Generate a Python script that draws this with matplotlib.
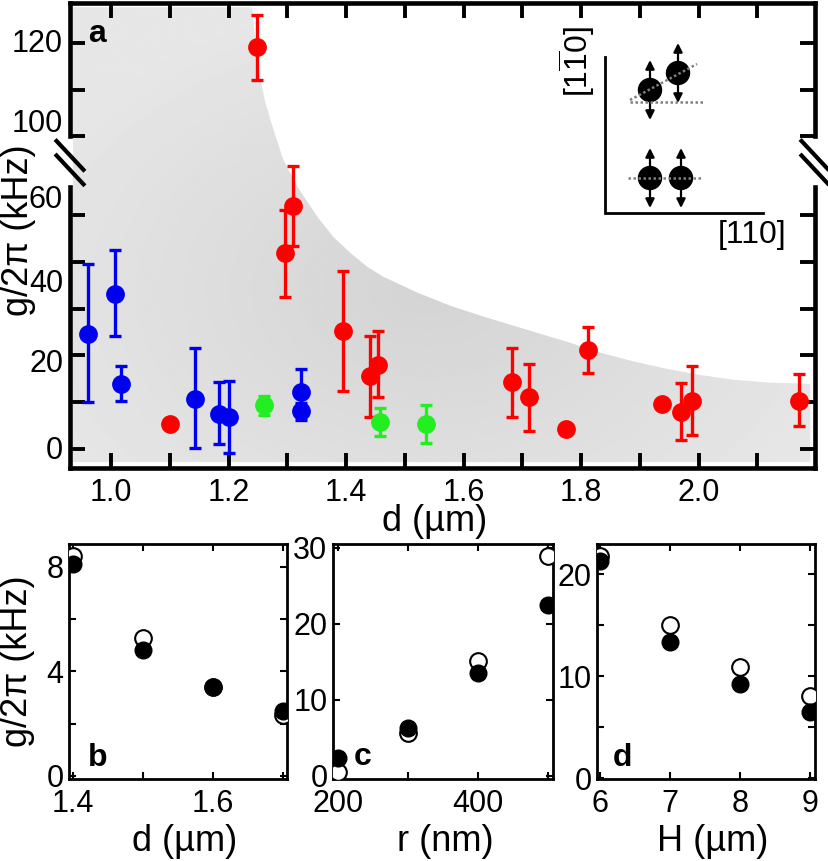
import numpy as np
import matplotlib
matplotlib.use("Agg")
import matplotlib.pyplot as plt
from matplotlib.patches import Polygon, Circle

plt.rcParams['font.family'] = ['Liberation Sans', 'DejaVu Sans']
plt.rcParams['mathtext.fontset'] = 'custom'
plt.rcParams['mathtext.rm'] = 'Liberation Sans'
plt.rcParams['mathtext.it'] = 'Liberation Sans:italic'
plt.rcParams['mathtext.bf'] = 'Liberation Sans:bold'

nan = np.nan

# ---- panel a data: coupling g/2pi (kHz) vs spacing d (um) ----
blue_d = [0.960, 1.007, 1.016, 1.142, 1.184, 1.200, 1.324, 1.323]
blue_g = [24.6, 33.2, 13.9, 10.7, 7.4, 6.8, 12.1, 8.2]
blue_lo = [10.0, 24.2, 10.3, 0.15, 1.1, -0.8, 7.0, 6.2]
blue_hi = [39.5, 42.4, 17.8, 21.5, 14.4, 14.5, 17.1, 9.8]

green_d = [1.261, 1.458, 1.536]
green_g = [9.3, 5.7, 5.3]
green_lo = [7.3, 2.8, 1.2]
green_hi = [11.3, 8.7, 9.4]

red_d = [1.100, 1.248, 1.296, 1.310, 1.394, 1.441, 1.454, 1.682, 1.711,
         1.774, 1.812, 1.938, 1.970, 1.989, 2.171]
red_g = [5.4, 119.0, 41.9, 51.8, 25.1, 15.5, 18.0, 14.2, 11.1,
         4.2, 21.2, 9.6, 8.0, 10.3, 10.3]
red_lo = [nan, 112.0, 32.4, 43.3, 12.4, 6.8, 11.1, 6.9, 3.9,
          nan, 16.2, nan, 1.9, 3.0, 4.9]
red_hi = [nan, 126.0, 51.1, 60.4, 38.1, 24.2, 25.2, 21.5, 18.2,
          nan, 26.0, nan, 14.1, 17.8, 16.0]

# upper bound of the shaded region
shade_d = [1.240, 1.246, 1.254, 1.262, 1.271, 1.280, 1.293, 1.317, 1.351,
           1.378, 1.407, 1.436, 1.463, 1.521, 1.577, 1.633, 1.696, 1.776,
           1.832, 1.889, 1.946, 2.003, 2.059, 2.117, 2.190]
shade_g = [127.6, 120.0, 112.2, 107.5, 103.6, 100.0, 61.8, 56.0, 49.6,
           45.3, 41.9, 38.9, 36.8, 33.4, 30.6, 28.3, 25.9, 22.9,
           20.6, 18.7, 17.1, 15.8, 14.8, 14.2, 13.9]

# ---- panels b-d: open = one model, filled = other ----
b_d = [1.4, 1.5, 1.6, 1.7]
b_open = [8.41, 5.25, 3.40, 2.31]
b_fill = [8.09, 4.82, 3.39, 2.48]

c_r = [200, 300, 400, 500]
c_open = [0.5, 5.7, 15.1, 28.9]
c_fill = [2.3, 6.3, 13.5, 22.5]

d_H = [6, 7, 8, 9]
d_open = [21.8, 15.0, 10.9, 8.1]
d_fill = [21.3, 13.4, 9.2, 6.5]

W, H = 829, 861
fig = plt.figure(figsize=(W / 100, H / 100), dpi=100)


def px_axes(l, t, r, b):
    return fig.add_axes([l / W, 1 - b / H, (r - l) / W, (b - t) / H])


# ================= panel a (broken y axis) =================
ax = px_axes(70, 3, 815, 468)
GAP_TOP = 66.74  # lower scale runs up to here, then the upper part starts at 100


def fwd(v):
    v = np.asarray(v, float)
    return np.where(v >= 100, v - 100 + GAP_TOP, np.minimum(v, GAP_TOP))


def inv(u):
    u = np.asarray(u, float)
    return np.where(u > GAP_TOP, u - GAP_TOP + 100, u)


ax.set_yscale('function', functions=(fwd, inv))

verts = [(0.935, -2.8), (0.935, 127.6)] + list(zip(shade_d, shade_g)) + [(2.190, -2.8)]
poly = Polygon(verts, closed=True, facecolor='none', edgecolor='none')
ax.add_patch(poly)
yy, xx = np.mgrid[0:1:300j, 0:1:400j]
rr = np.hypot((xx - 0.48) / 0.6, (yy - 0.38) / 0.65)
shade = 0.83 + 0.075 * np.clip(rr, 0, 1)
im = ax.imshow(shade, extent=(0, 1, 0, 1), transform=ax.transAxes, cmap='gray',
               vmin=0, vmax=1, aspect='auto', origin='lower', zorder=0,
               interpolation='bilinear')
im.set_clip_path(poly)


def draw_err(d, g, lo, hi, color):
    d, g, lo, hi = (np.asarray(a, float) for a in (d, g, lo, hi))
    ax.errorbar(d, g, yerr=[g - lo, hi - g], fmt='o', color=color, ms=12.5,
                elinewidth=2.4, capsize=4.5, capthick=2.4, zorder=3)


draw_err(blue_d, blue_g, blue_lo, blue_hi, '#0000f0')
draw_err(green_d, green_g, green_lo, green_hi, '#22ee22')
draw_err(red_d, red_g, red_lo, red_hi, '#ff0000')

ax.set_xlim(0.930, 2.198)
ax.set_ylim(-4.06, 128.5)
ax.set_xticks([1.0, 1.2, 1.4, 1.6, 1.8, 2.0], ['1.0', '1.2', '1.4', '1.6', '1.8', '2.0'])
ax.set_xticks([1.1, 1.3, 1.5, 1.7, 1.9, 2.1], minor=True)
ax.yaxis.remove_overlapping_locs = False
tick_marks = [0, 10, 20, 30, 40, 50, 100, 110, 120]
ax.set_yticks(tick_marks, [''] * len(tick_marks))
ax.set_yticks([0.4, 19, 36, 54, 103.5, 120.5], ['0', '20', '40', '60', '100', '120'], minor=True)
ax.tick_params(which='both', direction='in', top=True, right=True, width=2.8,
               length=11, labelsize=22)
ax.tick_params(axis='x', which='both', pad=7)
ax.tick_params(axis='y', which='minor', length=0, pad=5)

for s in ('top', 'bottom'):
    ax.spines[s].set_linewidth(3.3)
for s in ('left', 'right'):
    ax.spines[s].set_visible(False)
yt = ax.get_yaxis_transform()
for side in (0, 1):
    ax.plot([side, side], [-4.06, 56.0], transform=yt, color='k', lw=3.3,
            clip_on=False, solid_capstyle='projecting', zorder=5)
    ax.plot([side, side], [100, 128.5], transform=yt, color='k', lw=3.3,
            clip_on=False, solid_capstyle='projecting', zorder=5)
    for yc in (62.7, 59.6):
        ax.plot([side - 0.02, side + 0.02], [yc + 3.4, yc - 3.4], transform=yt,
                color='k', lw=3, clip_on=False, solid_capstyle='butt', zorder=5)

ax.set_ylabel('g/2π (kHz)', fontsize=26)
ax.yaxis.set_label_coords(-0.046, 0.512)
ax.set_xlabel('d (µm)', fontsize=26)
ax.xaxis.set_label_coords(0.489, -0.078)
ax.text(0.0242, 0.916, 'a', transform=ax.transAxes, fontsize=23,
        fontweight='bold', ha='left', va='baseline')

# ---- inset schematic (drawn in pixel units) ----
axi = fig.add_axes([540 / W, 1 - 260 / H, 289 / W, 260 / H])
axi.set_xlim(540, 829)
axi.set_ylim(260, 0)
axi.axis('off')
axi.plot([605, 605, 763], [57, 213, 213], color='k', lw=2, solid_joinstyle='miter')
balls = [(650, 90), (678, 73), (650, 178), (681, 178)]
for cx, cy in balls:
    axi.add_patch(Circle((cx, cy), 11.5, color='k', zorder=2))
    axi.annotate('', xy=(cx, cy - 30), xytext=(cx, cy + 30),
                 arrowprops=dict(arrowstyle='<|-|>', color='k', lw=1.6,
                                 mutation_scale=13, shrinkA=0, shrinkB=0), zorder=3)
dots = [([630, 705], [102, 102]), ([630, 697], [100, 64]), ([628, 703], [178, 178])]
for xs, ys in dots:
    axi.plot(xs, ys, color='0.5', lw=1.8, ls=(0, (1, 1)), zorder=4)
axi.text(577, 62, r'[1$\overline{\mathrm{1}}$0]', rotation=90, ha='center',
         va='center', fontsize=23)
axi.text(752, 235, '[110]', ha='center', va='center', fontsize=23)


# ================= panels b, c, d =================
def small_panel(l, r, x, g_open, g_fill, xlim, ylim, xticks, xlabels,
                yticks, ylabels, xlabel, letter, letter_xy, xlab_x):
    a = px_axes(l, 544, r, 779)
    a.plot(x, g_open, 'o', ms=12, mfc='white', mec='k', mew=1.5, zorder=3)
    a.plot(x, g_fill, 'o', ms=12, color='k', zorder=4)
    a.set_xlim(*xlim)
    a.set_ylim(*ylim)
    a.set_xticks(xticks, xlabels)
    a.set_yticks(yticks, ylabels)
    a.tick_params(direction='in', top=True, right=True, length=5, width=1.5,
                  labelsize=22)
    a.tick_params(axis='x', pad=7)
    a.tick_params(axis='y', pad=4)
    for s in a.spines.values():
        s.set_linewidth(2)
    a.set_xlabel(xlabel, fontsize=26)
    a.xaxis.set_label_coords(xlab_x, -0.19)
    a.text(letter_xy[0], letter_xy[1], letter, transform=a.transAxes,
           fontsize=23, fontweight='bold', ha='left', va='baseline')
    return a


axb = small_panel(69, 287, b_d, b_open, b_fill, (1.395, 1.705), (-0.12, 8.86),
                  [1.4, 1.5, 1.6, 1.7], ['1.4', '', '1.6', ''],
                  [0, 2, 4, 6, 8], ['0', '', '4', '', '8'],
                  'd (µm)', 'b', (0.087, 0.055), 0.53)
axb.set_ylabel('g/2π (kHz)', fontsize=26)
axb.yaxis.set_label_coords(-0.156, 0.5)

small_panel(333, 553, c_r, c_open, c_fill, (193, 507), (-0.4, 30.5),
            [200, 300, 400, 500], ['200', '', '400', ''],
            [0, 10, 20, 30], ['0', '10', '20', '30'],
            'r (nm)', 'c', (0.095, 0.06), 0.51)

small_panel(597, 815, d_H, d_open, d_fill, (5.957, 9.07), (-0.05, 22.95),
            [6, 7, 8, 9], ['6', '7', '8', '9'],
            [0, 5, 10, 15, 20], ['0', '', '10', '', '20'],
            'H (µm)', 'd', (0.073, 0.056), 0.53)

fig.savefig('out.png', dpi=100)
